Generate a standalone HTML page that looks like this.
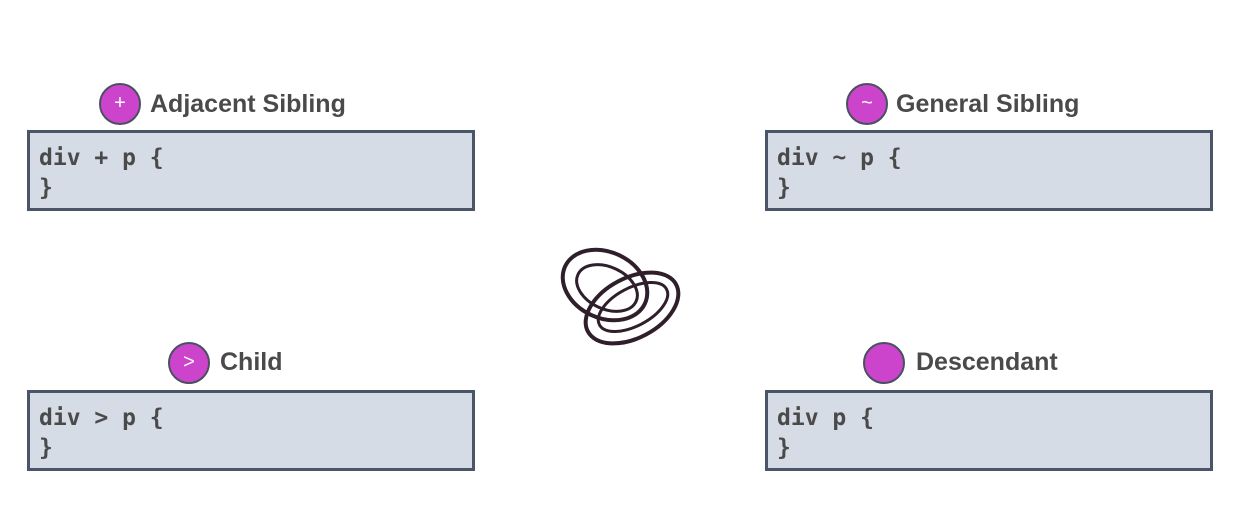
<!DOCTYPE html>
<html><head><style>
body{margin:0;width:1256px;height:508px;background:#fff;position:relative;overflow:hidden;font-family:"Liberation Sans",sans-serif}
.box{position:absolute;width:442px;height:75px;background:#d5dce6;border:3px solid #4a5568}
.code{position:absolute;left:9px;top:10px;font:bold 23px/30px "DejaVu Sans Mono",monospace;color:#4a4a4a;white-space:pre}
.c{position:absolute;width:38px;height:38px;border-radius:50%;background:#cc44cc;border:2px solid #4a5060;color:#fff;font-size:20px;line-height:36px;text-align:center}
.t{position:absolute;font-weight:bold;font-size:25px;color:#4a4a4a;line-height:30px}
</style></head><body>
<div class="c" style="left:99px;top:83px">+</div><div class="t" style="left:150px;top:89px">Adjacent Sibling</div>
<div class="box" style="left:27px;top:130px"><div class="code">div + p {
}</div></div>
<div class="c" style="left:846px;top:83px">~</div><div class="t" style="left:896px;top:89px">General Sibling</div>
<div class="box" style="left:765px;top:130px"><div class="code">div ~ p {
}</div></div>
<div class="c" style="left:168px;top:342px">&gt;</div><div class="t" style="left:220px;top:347px">Child</div>
<div class="box" style="left:27px;top:390px"><div class="code">div &gt; p {
}</div></div>
<div class="c" style="left:863px;top:342px"></div><div class="t" style="left:916px;top:347px">Descendant</div>
<div class="box" style="left:765px;top:390px"><div class="code">div p {
}</div></div>
<svg style="position:absolute;left:550px;top:240px" width="140" height="115">
<g fill="none" stroke="#2e1f2a" stroke-width="4">
<ellipse cx="55" cy="45" rx="44" ry="33" transform="rotate(25 55 45)"/>
<ellipse cx="57" cy="48" rx="32" ry="21" transform="rotate(25 57 48)" stroke-width="3"/>
<ellipse cx="82" cy="68" rx="50" ry="30" transform="rotate(-28 82 68)"/>
<ellipse cx="83" cy="67" rx="38" ry="19" transform="rotate(-28 83 67)" stroke-width="3"/>
</g></svg>
</body></html>
